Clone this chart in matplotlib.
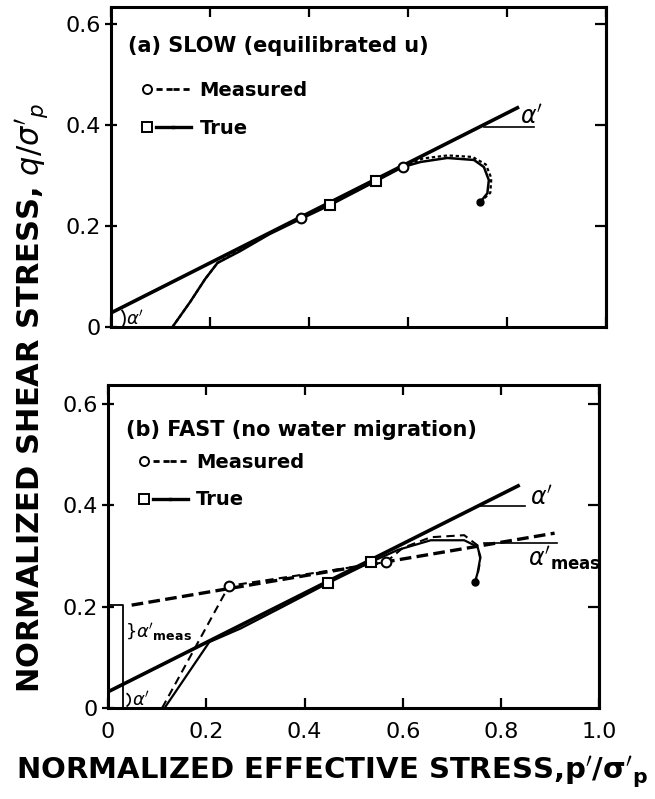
import matplotlib
matplotlib.use('Agg')
import matplotlib.pyplot as plt
from matplotlib.lines import Line2D
from matplotlib.legend_handler import HandlerTuple
from matplotlib.patches import Arc

# ---------------- data ----------------
x_ticks = [0, 0.2, 0.4, 0.6, 0.8, 1.0]
x_ticklabels = ['0', '0.2', '0.4', '0.6', '0.8', '1.0']
y_ticks = [0, 0.2, 0.4, 0.6]
y_ticklabels = ['0', '0.2', '0.4', '0.6']

# (a) SLOW
a_env_p = [0.0, 0.824]
a_env_q = [0.028, 0.436]
a_ref_p = [0.754, 0.854]
a_ref_q = [0.396, 0.396]
a_true_p = [0.124, 0.16, 0.19, 0.215, 0.26, 0.32, 0.383, 0.443, 0.535, 0.589,
            0.625, 0.679, 0.733, 0.753, 0.763, 0.760, 0.746]
a_true_q = [0.0, 0.05, 0.095, 0.127, 0.150, 0.184, 0.214, 0.242, 0.289, 0.317,
            0.327, 0.335, 0.331, 0.317, 0.291, 0.265, 0.248]
a_meas_p = [0.124, 0.16, 0.19, 0.215, 0.26, 0.32, 0.383, 0.443, 0.535, 0.589,
            0.63, 0.68, 0.73, 0.757, 0.768, 0.766, 0.746]
a_meas_q = [0.0, 0.05, 0.095, 0.127, 0.152, 0.186, 0.216, 0.243, 0.290, 0.318,
            0.334, 0.340, 0.337, 0.322, 0.295, 0.266, 0.248]
a_true_mk_p = [0.443, 0.535]
a_true_mk_q = [0.242, 0.289]
a_meas_mk_p = [0.383, 0.589]
a_meas_mk_q = [0.216, 0.317]
a_end_p = [0.746]
a_end_q = [0.248]

# (b) FAST
b_env_p = [0.0, 0.838]
b_env_q = [0.032, 0.440]
b_ref_p = [0.758, 0.848]
b_ref_q = [0.398, 0.398]
b_envm_p = [0.048, 0.909]
b_envm_q = [0.203, 0.345]
b_refm_p = [0.766, 0.913]
b_refm_q = [0.325, 0.325]
b_true_p = [0.115, 0.206, 0.27, 0.35, 0.447, 0.535, 0.59, 0.657, 0.725, 0.752,
            0.758, 0.752, 0.747]
b_true_q = [0.0, 0.13, 0.157, 0.197, 0.246, 0.288, 0.312, 0.331, 0.331, 0.318,
            0.298, 0.266, 0.249]
b_meas_p = [0.11, 0.246, 0.566, 0.60, 0.657, 0.725, 0.752, 0.758, 0.752, 0.747]
b_meas_q = [0.0, 0.241, 0.288, 0.316, 0.337, 0.341, 0.321, 0.292, 0.262, 0.249]
b_true_mk_p = [0.447, 0.535]
b_true_mk_q = [0.246, 0.288]
b_meas_mk_p = [0.246, 0.566]
b_meas_mk_q = [0.241, 0.288]
b_end_p = [0.747]
b_end_q = [0.249]
b_bracket_p = [0.0, 0.03, 0.03]
b_bracket_q = [0.203, 0.203, 0.0]

# ---------------- figure ----------------
plt.rcParams['font.family'] = ['DejaVu Sans']
fig = plt.figure(figsize=(6.55, 7.99), dpi=100)
ax_a = fig.add_axes([0.1695, 0.5907, 0.756, 0.4005])
ax_b = fig.add_axes([0.165, 0.1139, 0.750, 0.4040])

K = 'black'


def style_axes(ax, ytop, show_x):
    ax.set_xlim(0, 1.0)
    ax.set_ylim(0, ytop)
    for s in ax.spines.values():
        s.set_linewidth(2.2)
    ax.set_xticks(x_ticks)
    ax.set_yticks(y_ticks)
    ax.set_yticklabels(y_ticklabels)
    if show_x:
        ax.set_xticklabels(x_ticklabels)
    else:
        ax.set_xticklabels([])
    ax.tick_params(axis='x', which='both', direction='in', top=True, bottom=True,
                   length=7, width=1.6, labelsize=16, pad=10)
    ax.tick_params(axis='y', which='both', direction='inout', left=True, right=False,
                   length=9, width=1.6, labelsize=16, pad=3)
    # right side inward ticks
    sec = ax.secondary_yaxis('right')
    sec.set_yticks(y_ticks[1:])
    sec.set_yticklabels([])
    sec.tick_params(direction='in', length=8, width=1.6)
    sec.spines['right'].set_linewidth(2.2)


def legend(ax, anchor):
    mk_c = Line2D([], [], marker='o', ls='none', mfc='white', mec=K, ms=6.5, mew=1.4)
    mk_s = Line2D([], [], marker='s', ls='none', mfc='white', mec=K, ms=6.5, mew=1.4)
    ln_d = Line2D([], [], ls=(0, (2.2, 1.4)), color=K, lw=2.0)
    ln_s = Line2D([], [], ls='-', color=K, lw=2.4)
    ax.legend([(mk_c, ln_d, ln_d), (mk_s, ln_s, ln_s)], ['Measured', 'True'],
              handler_map={tuple: HandlerTuple(ndivide=None, pad=0)},
              loc='upper left', bbox_to_anchor=anchor, frameon=False,
              borderpad=0, borderaxespad=0, handlelength=2.7, handletextpad=0.45,
              labelspacing=0.95, prop={'size': 14, 'weight': 'bold'})


# ----- panel (a) -----
ax = ax_a
style_axes(ax, 0.634, False)
ax.plot(a_env_p, a_env_q, color=K, lw=2.6, solid_capstyle='butt')
ax.plot(a_ref_p, a_ref_q, color=K, lw=1.2)
ax.plot(a_true_p, a_true_q, color=K, lw=1.8)
ax.plot(a_meas_p, a_meas_q, color=K, lw=1.6, ls=(0, (1.5, 1.2)))
ax.plot(a_true_mk_p, a_true_mk_q, 's', ms=7, mfc='white', mec=K, mew=1.5)
ax.plot(a_meas_mk_p, a_meas_mk_q, 'o', ms=7, mfc='white', mec=K, mew=1.5)
ax.plot(a_end_p, a_end_q, 'o', ms=5, color=K)
ax.text(0.034, 0.556, '(a) SLOW (equilibrated u)', fontsize=15, fontweight='bold',
        va='center', ha='left')
ax.text(0.85, 0.416, r"$\alpha'$", fontsize=17, va='center', ha='center')
ax.text(0.048, 0.016, r"$\alpha'$", fontsize=13, va='center', ha='center')
ax.add_patch(Arc((0.0, 0.016), 0.056, 0.056, theta1=-40, theta2=40, color=K, lw=1.3))
legend(ax, (0.055, 0.768))

# ----- panel (b) -----
ax = ax_b
style_axes(ax, 0.637, True)
ax.plot(b_env_p, b_env_q, color=K, lw=2.6, solid_capstyle='butt')
ax.plot(b_ref_p, b_ref_q, color=K, lw=1.2)
ax.plot(b_envm_p, b_envm_q, color=K, lw=2.4, ls=(0, (3.5, 1.6)))
ax.plot(b_refm_p, b_refm_q, color=K, lw=1.2)
ax.plot(b_true_p, b_true_q, color=K, lw=1.6)
ax.plot(b_meas_p, b_meas_q, color=K, lw=1.5, ls=(0, (4, 2.5)))
ax.plot(b_bracket_p, b_bracket_q, color=K, lw=1.3)
ax.plot(b_true_mk_p, b_true_mk_q, 's', ms=7, mfc='white', mec=K, mew=1.5)
ax.plot(b_meas_mk_p, b_meas_mk_q, 'o', ms=7, mfc='white', mec=K, mew=1.5)
ax.plot(b_end_p, b_end_q, 'o', ms=5, color=K)
ax.text(0.036, 0.548, '(b) FAST (no water migration)', fontsize=15, fontweight='bold',
        va='center', ha='left')
ax.text(0.859, 0.416, r"$\alpha'$", fontsize=17, va='center', ha='left')
ax.text(0.855, 0.296, r"$\alpha'_{\mathbf{meas}}$", fontsize=17, va='center', ha='left')
ax.text(0.036, 0.15, '}', fontsize=13, va='center', ha='left')
ax.text(0.056, 0.15, r"$\alpha'_{\mathbf{meas}}$", fontsize=13, va='center', ha='left')
ax.text(0.066, 0.016, r"$\alpha'$", fontsize=13, va='center', ha='center')
ax.add_patch(Arc((0.03, 0.016), 0.03, 0.03, theta1=-60, theta2=60, color=K, lw=1.2))
legend(ax, (0.055, 0.79))

# ----- axis labels -----
fig.text(32 / 655, 1 - 693 / 799, r"NORMALIZED SHEAR STRESS, $q/\sigma'_p$",
         rotation=90, fontsize=22, fontweight='bold', ha='center', va='bottom')
fig.text(16 / 655, 1 - 772 / 799, r"NORMALIZED EFFECTIVE STRESS,$\mathbf{p'/\sigma'_p}$",
         fontsize=21, fontweight='bold', ha='left', va='center')

fig.savefig('out.png', dpi=100)
